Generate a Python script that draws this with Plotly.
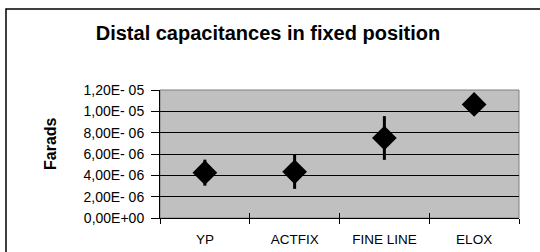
import plotly.graph_objects as go

categories = ["YP", "ACTFIX", "FINE LINE", "ELOX"]
values = [4.25e-6, 4.33e-6, 7.5e-6, 1.065e-5]
errors = [1.22e-6, 1.6e-6, 2.05e-6, 0.4e-6]
ytick_vals = [0, 2e-6, 4e-6, 6e-6, 8e-6, 1e-5, 1.2e-5]
ytick_text = ["0,00E+00", "2,00E- 06", "4,00E- 06", "6,00E- 06", "8,00E- 06", "1,00E- 05", "1,20E- 05"]

FONT = "Liberation Sans, Arial, sans-serif"

fig = go.Figure()
fig.add_trace(go.Scatter(
    x=categories, y=values, mode="markers",
    marker=dict(symbol="diamond", size=19, color="black"),
    error_y=dict(type="data", array=errors, visible=True, thickness=3, width=0, color="black"),
    showlegend=False, hoverinfo="skip",
))
# helper (invisible) trace so the overlay axis carries the inner half of the crossing ticks
fig.add_trace(go.Scatter(x=categories, y=values, xaxis="x2", mode="markers",
                         marker=dict(opacity=0), showlegend=False, hoverinfo="skip"))

xcommon = dict(type="category", range=[-0.5, 3.5], tickson="boundaries", tickcolor="black",
               ticklen=5, showgrid=False, zeroline=False, categoryorder="array",
               categoryarray=categories, automargin=False)

fig.update_layout(
    width=540, height=252,
    margin=dict(l=160, r=21, t=90, b=34, autoexpand=False),
    paper_bgcolor="white", plot_bgcolor="#C0C0C0",
    font=dict(family=FONT, color="black", size=13),
    title=dict(text="<b>Distal capacitances in fixed position</b>", x=268 / 540, xanchor="center",
               y=1 - 33 / 252, yanchor="middle", font=dict(size=20, family=FONT)),
    xaxis=dict(**xcommon, ticks="outside", showline=True, linecolor="black", linewidth=1,
               tickfont=dict(size=13.5), ticklabelstandoff=9),
    xaxis2=dict(**xcommon, ticks="inside", overlaying="x", anchor="y", side="bottom",
                showticklabels=False, showline=False),
    yaxis=dict(range=[0, 1.2e-5], tickvals=ytick_vals, ticktext=ytick_text, ticks="outside",
               ticklen=8, tickcolor="black", showline=True, linecolor="black", linewidth=1,
               showgrid=True, gridcolor="black", gridwidth=1, zeroline=False,
               tickfont=dict(size=14), ticklabelstandoff=4, automargin=False),
    annotations=[
        dict(text="<b>Farads</b>", textangle=-90, xref="paper", yref="paper",
             x=(50 - 160) / 359, y=(218 - 144) / 128, xanchor="center", yanchor="middle",
             showarrow=False, font=dict(size=16, family=FONT)),
    ],
    shapes=[
        dict(type="rect", xref="paper", yref="paper", x0=0, x1=1, y0=0, y1=1,
             line=dict(color="#808080", width=1), layer="below"),
        dict(type="rect", xref="paper", yref="paper", x0=(6 - 160) / 359, x1=2, y0=-1,
             y1=(218 - 9) / 128, line=dict(color="black", width=1.5), fillcolor="rgba(0,0,0,0)"),
    ],
)

fig.write_html("out.html", post_script="document.body.style.margin='0';",
               config={"displayModeBar": False})
